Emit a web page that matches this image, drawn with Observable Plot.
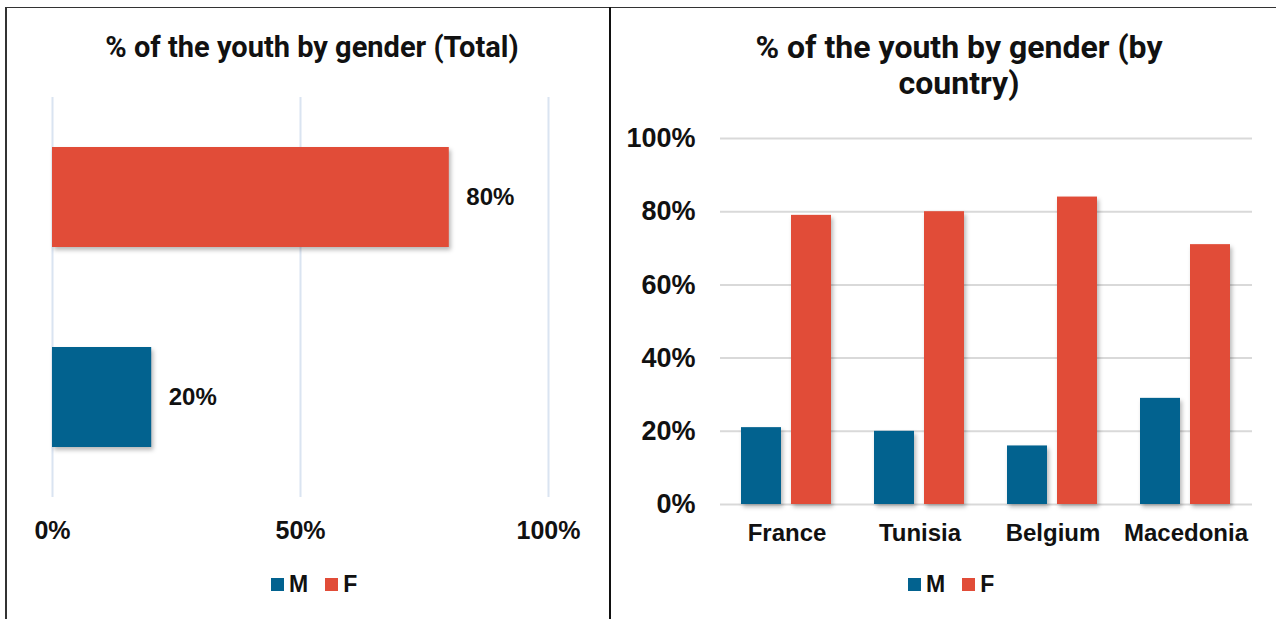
<!DOCTYPE html>
<html>
<head>
<meta charset="utf-8">
<script src="https://cdn.jsdelivr.net/npm/d3@7"></script>
<script src="https://cdn.jsdelivr.net/npm/@observablehq/plot@0.6"></script>
<style>
  html, body { margin: 0; padding: 0; background: #fff; }
  #root { position: relative; width: 1276px; height: 619px; overflow: hidden; background: #fff; }
  .abs { position: absolute; }
  .title { font-family: Roboto, "Liberation Sans", Arial, sans-serif; font-weight: 700; line-height: 36px; color: #111; text-align: center; white-space: nowrap; }
  .legend { font-family: "Liberation Sans", Arial, sans-serif; font-weight: 700; font-size: 23px; color: #111; display: flex; align-items: center; }
  .legend .sw { width: 13px; height: 13px; display: inline-block; margin-right: 5px; }
  .legend .item { display: flex; align-items: center; margin-right: 17px; }
  g[aria-label="bar"] rect { filter: drop-shadow(2px 3px 2px rgba(0,0,0,0.28)); }
</style>
</head>
<body>
<div id="root">
  <div class="abs" style="left:5px; top:7px; width:1271px; height:1px; background:#333;"></div>
  <div class="abs" style="left:5px; top:7px; width:2px; height:612px; background:#333;"></div>
  <div class="abs" style="left:609px; top:7px; width:2px; height:612px; background:#111;"></div>

  <div class="abs title" id="title1" style="left:5px; width:614px; top:29px; font-size:29px;"></div>
  <div class="abs title" id="title2" style="left:611px; width:696px; top:29px; font-size:32px;"></div>

  <div class="abs" id="chart1" style="left:0px; top:90px;"></div>
  <div class="abs" id="chart2" style="left:610px; top:120px;"></div>

  <div class="abs legend" id="legend1" style="left:271px; top:571px;"></div>
  <div class="abs legend" id="legend2" style="left:908px; top:571px;"></div>
</div>
<script>
// ---- data ----
const genders = ["M", "F"];
const genderColors = ["#02628f", "#e14c38"];
const totalValues = [0.20, 0.80];            // M, F
const countries = ["France", "Tunisia", "Belgium", "Macedonia"];
const maleValues = [0.21, 0.20, 0.16, 0.29];
const femaleValues = [0.79, 0.80, 0.84, 0.71];
const totalTicks = [0, 0.5, 1];
const countryTicks = [0, 0.2, 0.4, 0.6, 0.8, 1];
const title1 = "% of the youth by gender (Total)";
const title2Lines = ["% of the youth by gender (by", "country)"];

// ---- tables ----
const totalData = genders.map((g, i) => ({gender: g, value: totalValues[i]}));
const countryData = countries.flatMap((c, i) => [
  {country: c, gender: "M", value: maleValues[i]},
  {country: c, gender: "F", value: femaleValues[i]}
]);

const pct = d3.format(".0%");
const font = "'Liberation Sans', Arial, sans-serif";

// ---- titles ----
document.getElementById("title1").textContent = title1;
const t2 = document.getElementById("title2");
title2Lines.forEach((l, i) => { if (i) t2.appendChild(document.createElement("br")); t2.appendChild(document.createTextNode(l)); });

// ---- legends ----
for (const id of ["legend1", "legend2"]) {
  const el = document.getElementById(id);
  genders.forEach((g, i) => {
    const it = document.createElement("span"); it.className = "item";
    const sw = document.createElement("span"); sw.className = "sw"; sw.style.background = genderColors[i];
    it.appendChild(sw); it.appendChild(document.createTextNode(g));
    el.appendChild(it);
  });
}

// ---- chart 1: horizontal bars (total) ----
const chart1 = Plot.plot({
  width: 610,
  height: 470,
  marginTop: 7,
  marginBottom: 63,
  marginLeft: 52,
  marginRight: 62,
  style: {fontFamily: font, fontSize: "24px", fontWeight: "bold", color: "#111", background: "transparent"},
  x: {domain: [0, 1], axis: null},
  y: {domain: ["F", "M"], paddingInner: 0.5, paddingOuter: 0.25, axis: null},
  color: {domain: genders, range: genderColors},
  marks: [
    Plot.gridX(totalTicks, {stroke: "#dae4f1", strokeOpacity: 1, strokeWidth: 2}),
    Plot.barX(totalData, {x: "value", y: "gender", fill: "gender"}),
    Plot.text(totalData, {x: "value", y: "gender", text: d => pct(d.value), textAnchor: "start", dx: 17, fill: "#111", fontSize: 24, fontWeight: "bold"}),
    Plot.axisX(totalTicks, {tickSize: 0, tickPadding: 24, tickFormat: pct, fontSize: 25, fontWeight: "bold", fill: "#111", label: null})
  ]
});
document.getElementById("chart1").appendChild(chart1);

// ---- chart 2: grouped vertical bars by country ----
const chart2 = Plot.plot({
  width: 666,
  height: 440,
  marginTop: 18,
  marginBottom: 56,
  marginLeft: 109,
  marginRight: 24,
  style: {fontFamily: font, fontSize: "24px", fontWeight: "bold", color: "#111", background: "transparent"},
  fx: {domain: countries, padding: 0},
  x: {domain: genders, paddingInner: 0.196, paddingOuter: 0.405, axis: null},
  y: {domain: [0, 1], axis: null},
  color: {domain: genders, range: genderColors},
  marks: [
    Plot.gridY(countryTicks, {stroke: "#d9d9d9", strokeOpacity: 1, strokeWidth: 2}),
    Plot.barY(countryData, {fx: "country", x: "gender", y: "value", fill: "gender"}),
    Plot.axisY(countryTicks, {tickSize: 0, tickPadding: 25, tickFormat: pct, fontSize: 27, fontWeight: "bold", fill: "#111", label: null}),
    Plot.axisFx({anchor: "bottom", tickSize: 0, tickPadding: 19, fontSize: 24, fontWeight: "bold", fill: "#111", label: null})
  ]
});
document.getElementById("chart2").appendChild(chart2);
</script>
</body>
</html>
